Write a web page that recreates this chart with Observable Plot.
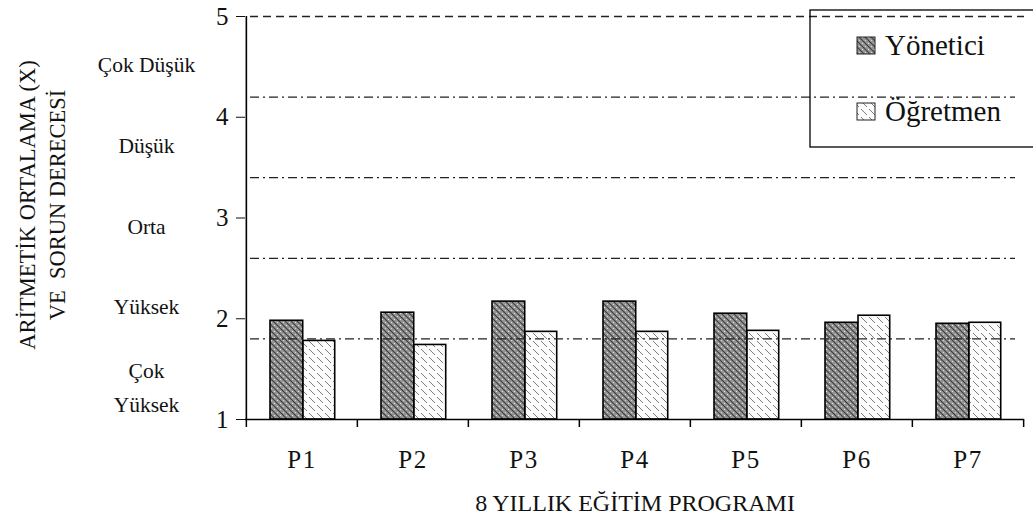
<!DOCTYPE html>
<html><head><meta charset="utf-8">
<script src="https://cdn.jsdelivr.net/npm/d3@7"></script>
<script src="https://cdn.jsdelivr.net/npm/@observablehq/plot@0.6"></script>
<style>
body{margin:0;background:#fff;}
#chart svg{display:block;}
g[aria-label="x-axis tick label"] text{letter-spacing:1.5px;}
</style></head><body><div id="chart"></div>
<script>
const programs = ["P1","P2","P3","P4","P5","P6","P7"];
const yonetici = [1.98, 2.06, 2.17, 2.17, 2.05, 1.96, 1.95];
const ogretmen = [1.78, 1.74, 1.87, 1.87, 1.88, 2.03, 1.96];
const seriesNames = ["Yönetici", "Öğretmen"];
const yTicks = [1, 2, 3, 4, 5];
const thresholds = [1.8, 2.6, 3.4, 4.2];
const levelLabels = ["Çok\nYüksek", "Yüksek", "Orta", "Düşük", "Çok Düşük"];
const yTitle = "ARİTMETİK ORTALAMA (X)\nVE\u00a0\u00a0SORUN DERECESİ";
const xTitle = "8 YILLIK EĞİTİM PROGRAMI";

const W = 1033, H = 519, mL = 245, mR = 9, mT = 16, mB = 100;
const bw = (W - mL - mR) / programs.length;
const serif = "Liberation Serif";

const rowsY = programs.map((p, i) => ({program: p, value: yonetici[i]}));
const rowsO = programs.map((p, i) => ({program: p, value: ogretmen[i]}));
const bounds = [yTicks[0], ...thresholds, yTicks[yTicks.length - 1]];
const levels = levelLabels.map((t, i) => ({label: t, y: (bounds[i] + bounds[i + 1]) / 2}));

const plot = Plot.plot({
  width: W, height: H,
  marginLeft: mL, marginRight: mR, marginTop: mT, marginBottom: mB,
  style: {fontFamily: serif, fontSize: "25px", color: "#111", background: "#fff", overflow: "visible"},
  x: {domain: programs, padding: 0, tickSize: 0, tickPadding: 31, label: null},
  y: {domain: [1, 5], ticks: yTicks, tickSize: 9, tickPadding: 8, label: null, tickFormat: d => String(d)},
  marks: [
    Plot.ruleY([5], {stroke: "#222", strokeWidth: 1.3, strokeDasharray: "8,5", insetLeft: 5}),
    Plot.barY(rowsY, {x: "program", y1: 1, y2: "value", fill: "url(#patY)", stroke: "#000", strokeWidth: 1.6, insetLeft: 24, insetRight: bw - 57}),
    Plot.barY(rowsO, {x: "program", y1: 1, y2: "value", fill: "url(#patO)", stroke: "#000", strokeWidth: 1.6, insetLeft: 57, insetRight: bw - 89}),
    Plot.ruleY(thresholds, {stroke: "#222", strokeWidth: 1.3, strokeDasharray: "9,4,2,4", insetLeft: 5, insetRight: 9}),
    Plot.ruleY([1], {stroke: "#000", strokeWidth: 1.6}),
    Plot.ruleX([programs[0]], {x: d => d, y1: 1, y2: 5, dx: -bw / 2, stroke: "#000", strokeWidth: 1.6}),
    Plot.ruleX(programs, {x: d => d, y1: 1, y2: 1, dx: -bw / 2, insetBottom: -8, stroke: "#000", strokeWidth: 1.5}),
    Plot.ruleX([programs[programs.length - 1]], {x: d => d, y1: 1, y2: 1, dx: bw / 2, insetBottom: -8, stroke: "#000", strokeWidth: 1.5}),
    Plot.text(levels, {y: "y", text: "label", frameAnchor: "left", textAnchor: "middle", lineAnchor: "middle", dx: -99, dy: 5, fontSize: 21.5, fontFamily: serif, lineHeight: 1.55, fill: "#111"}),
    Plot.text([yTitle], {text: d => d, frameAnchor: "left", textAnchor: "middle", lineAnchor: "middle", rotate: -90, dx: -205, dy: -13, fontSize: 22.5, fontFamily: serif, lineHeight: 1.33, fill: "#111"}),
    Plot.text([xTitle], {text: d => d, frameAnchor: "bottom", textAnchor: "middle", lineAnchor: "middle", dy: 84, fontSize: 24, fontFamily: serif, fill: "#111"})
  ]
});

const svg = d3.select(plot);
const defs = svg.insert("defs", ":first-child");
const pY = defs.append("pattern").attr("id", "patY").attr("patternUnits", "userSpaceOnUse").attr("width", 6).attr("height", 6);
pY.append("rect").attr("width", 6).attr("height", 6).attr("fill", "#969696");
pY.append("path").attr("d", "M0,0L6,6M-3,3L3,9M3,-3L9,3").attr("stroke", "#3c3c3c").attr("stroke-width", 1.1);
pY.append("rect").attr("x", 4).attr("y", 1).attr("width", 1).attr("height", 1).attr("fill", "#e6e6e6");
pY.append("rect").attr("x", 1).attr("y", 4).attr("width", 1).attr("height", 1).attr("fill", "#d8d8d8");
const pO = defs.append("pattern").attr("id", "patO").attr("patternUnits", "userSpaceOnUse").attr("width", 8).attr("height", 8);
pO.append("rect").attr("width", 8).attr("height", 8).attr("fill", "#fbfbfb");
pO.append("path").attr("d", "M0,0L3,3M5,5L8,8").attr("stroke", "#6e6e6e").attr("stroke-width", 0.9);

const lg = svg.append("g").attr("font-family", serif).attr("fill", "#111").attr("text-anchor", "start");
lg.append("rect").attr("x", 810).attr("y", 10).attr("width", 230).attr("height", 137)
  .attr("fill", "none").attr("stroke", "#000").attr("stroke-width", 1.3);
const legendRows = [{name: seriesNames[0], fill: "url(#patY)", y: 37}, {name: seriesNames[1], fill: "url(#patO)", y: 103}];
legendRows.forEach(r => {
  lg.append("rect").attr("x", 857).attr("y", r.y).attr("width", 18).attr("height", 17)
    .attr("fill", r.fill).attr("stroke", "#222").attr("stroke-width", 1);
  lg.append("text").attr("x", 885).attr("y", r.y + 18).attr("font-size", 29).attr("text-anchor", "start").text(r.name);
});

document.getElementById("chart").appendChild(plot);
</script></body></html>
